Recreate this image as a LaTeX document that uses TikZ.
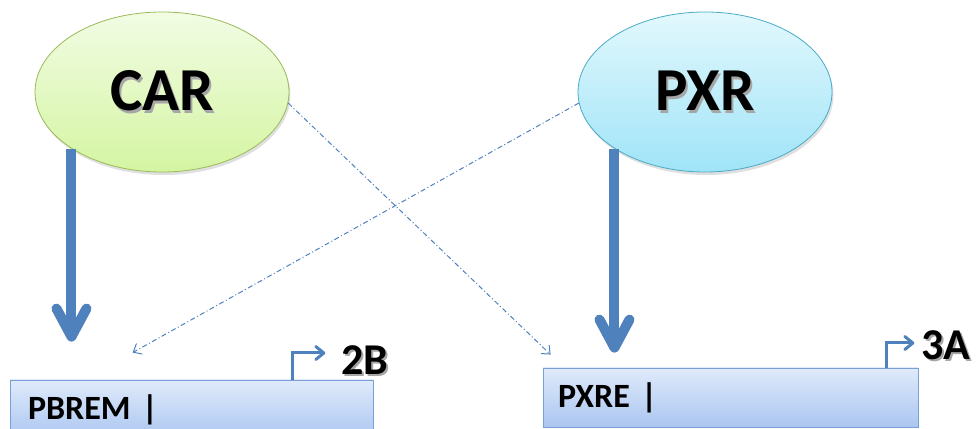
\documentclass[tikz,border=0pt]{standalone}
\usepackage{fontspec}
\setmainfont{Carlito}
\usepackage{tikz}
\usetikzlibrary{shapes.geometric,arrows.meta,shadows,calc}
\tikzstyle{receptor} = [ellipse, minimum width=254pt, minimum height=160pt, line width=0.8pt, drop shadow={opacity=0.25,shadow xshift=1.5pt,shadow yshift=-3pt}, font=\bfseries\fontsize{61}{61}\selectfont]
\tikzstyle{promoter} = [rectangle, minimum height=59pt, draw=boxline, line width=0.8pt, top color=boxtop, bottom color=boxbottom, inner xsep=15pt, align=left, font=\bfseries\fontsize{34}{34}\selectfont]
\tikzstyle{gene} = [inner sep=1pt, font=\bfseries\fontsize{44}{44}\selectfont]
\tikzstyle{arrow} = [line width=10pt, draw=arrowblue, -{Straight Barb[length=28pt,width=30pt,round]}]
\tikzstyle{crosstalk} = [line width=1pt, draw=arrowblue, dash pattern=on 5pt off 2.5pt on 1pt off 2.5pt, -{Straight Barb[length=7pt,width=12pt]}]
\tikzstyle{start} = [line width=3pt, draw=arrowblue, -{Straight Barb[length=8pt,width=13pt,round]}]
\definecolor{arrowblue}{RGB}{79,129,189}
\definecolor{cartop}{RGB}{242,252,228}
\definecolor{carbottom}{RGB}{212,245,162}
\definecolor{carline}{RGB}{155,187,89}
\definecolor{pxrtop}{RGB}{226,248,253}
\definecolor{pxrbottom}{RGB}{160,228,248}
\definecolor{pxrline}{RGB}{75,172,198}
\definecolor{boxtop}{RGB}{224,234,251}
\definecolor{boxbottom}{RGB}{170,198,240}
\definecolor{boxline}{RGB}{120,160,215}
\newcommand{\shadowed}[1]{\makebox[0pt][l]{\hspace{2pt}\raisebox{-2.5pt}{\textcolor{black!35}{#1}}}#1}

\begin{document}
\begin{tikzpicture}[x=1pt,y=1pt]
\clip (0,0) rectangle (976,428);
\node (car) [receptor, draw=carline, top color=cartop, bottom color=carbottom] at (162,336) {\shadowed{CAR}};
\node (pxr) [receptor, draw=pxrline, top color=pxrtop, bottom color=pxrbottom] at (705,336) {\shadowed{PXR}};
\node (pbrem) [promoter, minimum width=363pt, text width=327pt] at (191.5,18.5) {PBREM |};
\node (pxre) [promoter, minimum width=375pt, text width=345pt] at (730.5,30.5) {PXRE |};
\node (cyp2b) [gene] at (365,67) {\shadowed{2B}};
\node (cyp3a) [gene] at (946,82) {\shadowed{3A}};
% direct activation
\draw[arrow] (car.212) -- ($(car.212 |- pbrem.north)+(0,38)$);
\draw[arrow] (pxr.212) -- ($(pxr.212 |- pxre.north)+(0,15)$);
% cross-talk
\draw[crosstalk] (car.-5) -- ($(pxre.north west)+(8,13)$);
\draw[crosstalk] (pxr.185) -- ($(pbrem.north west)+(123,27)$);
% transcription start
\coordinate (tss2b) at ($(pbrem.north west)+(283,0)$);
\coordinate (tss3a) at ($(pxre.north west)+(344,0)$);
\draw[start] (tss2b) |- ([xshift=-15pt,yshift=8pt]cyp2b.west);
\draw[start] (tss3a) |- ([xshift=-6pt,yshift=3pt]cyp3a.west);
\end{tikzpicture}
\end{document}
